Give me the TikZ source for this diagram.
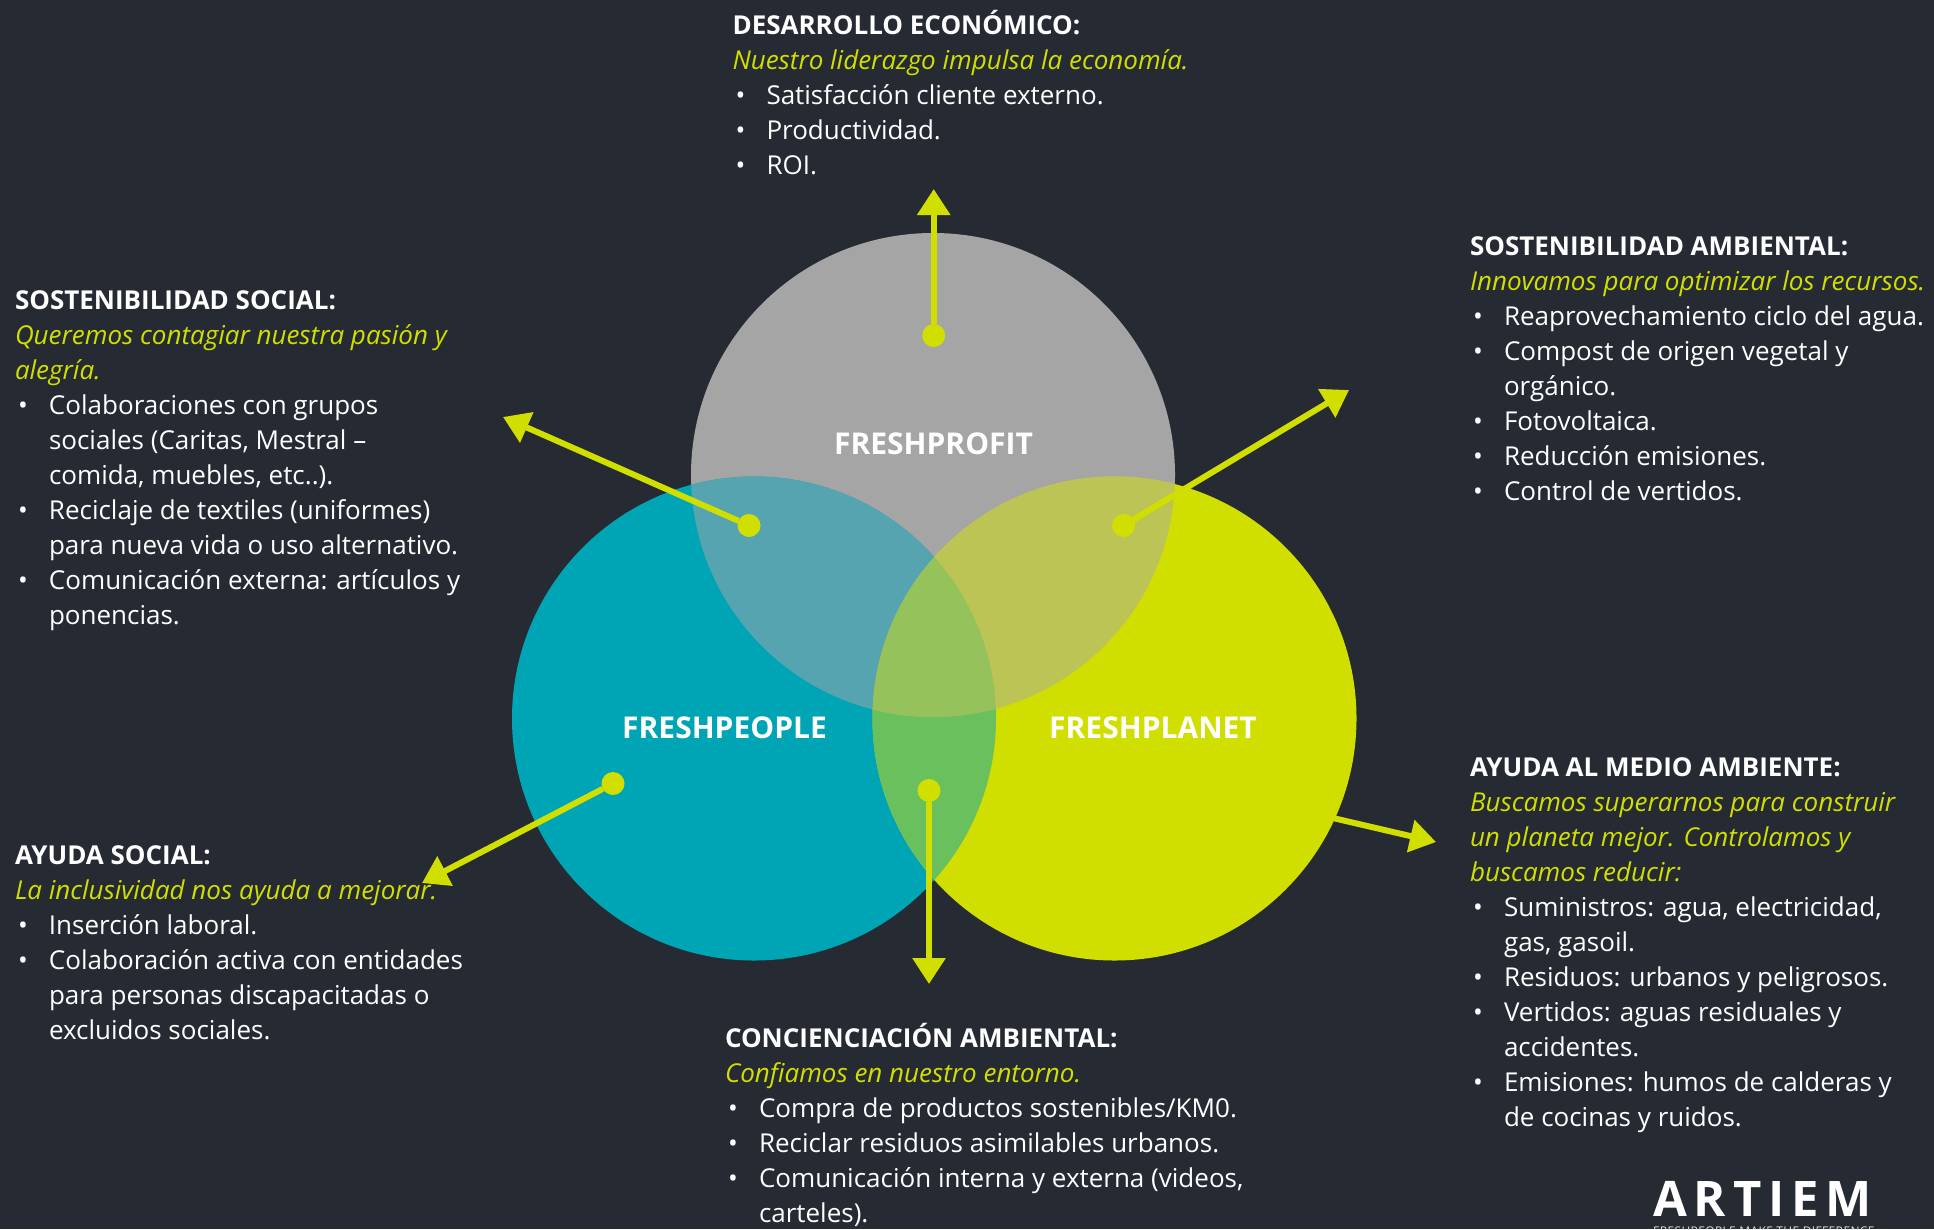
\documentclass[tikz,border=0pt]{standalone}
\usepackage{fontspec}
\setmainfont{Open Sans}
\usetikzlibrary{arrows.meta}
\definecolor{bgc}{HTML}{262B33}
\definecolor{tealc}{HTML}{00A5B5}
\definecolor{lime}{HTML}{D1DF00}
\definecolor{greyc}{HTML}{A5A5A5}
\definecolor{tg}{HTML}{56A4AF}
\definecolor{lg}{HTML}{BCC456}
\definecolor{tl}{HTML}{6BC05E}
\definecolor{tlg}{HTML}{95C25A}
\newcommand{\hdx}[1]{\rule{0pt}{27pt}\textbf{#1}}
\newcommand{\slx}[1]{\textcolor{lime}{\textit{#1}}}
\newcommand{\blx}[1]{\makebox[34pt][l]{\hspace{3pt}\textbullet}#1}
\newcommand{\nbx}[1]{\hspace{34pt}#1}
\tikzset{
  txt/.style={anchor=north west,inner sep=0pt,outer sep=0pt,align=left,text=white,font=\fontsize{26}{35}\selectfont},
  lbl/.style={inner sep=0pt,text=white,font=\fontsize{30}{36}\selectfont\bfseries},
  dotn/.style={circle,fill=lime,minimum size=23pt,inner sep=0pt,outer sep=0pt},
  arr/.style={draw=lime,line width=6pt,-{Triangle[length=26pt,width=32pt]}},
}
\begin{document}
\begin{tikzpicture}[x=1pt,y=-1pt]
\useasboundingbox (0,0) rectangle (1934,1229);
\clip (0,0) rectangle (1934,1229);
\fill[bgc] (0,0) rectangle (1934,1229);
\coordinate (cp) at (933,475);
\coordinate (cl) at (754,718.5);
\coordinate (cr) at (1114.5,718.5);
\def\rr{242pt}
\fill[greyc] (cp) circle (\rr);
\fill[tealc] (cl) circle (\rr);
\fill[lime] (cr) circle (\rr);
\begin{scope}\clip (cl) circle (\rr); \fill[tl] (cr) circle (\rr);\end{scope}
\begin{scope}\clip (cp) circle (\rr); \fill[tg] (cl) circle (\rr);\end{scope}
\begin{scope}\clip (cp) circle (\rr); \fill[lg] (cr) circle (\rr);\end{scope}
\begin{scope}\clip (cp) circle (\rr); \clip (cl) circle (\rr); \fill[tlg] (cr) circle (\rr);\end{scope}

\node[lbl] (profit) at (933.5,444) {FRESHPROFIT};
\node[lbl] (people) at (724.5,728) {FRESHPEOPLE};
\node[lbl] (planet) at (1153,728) {FRESHPLANET};

\node[dotn] (d1) at (933.7,335.5) {};
\node[dotn] (d2) at (749,525.5) {};
\node[dotn] (d3) at (1123.6,525.5) {};
\node[dotn] (d4) at (613,783.5) {};
\node[dotn] (d5) at (929,790.5) {};
\coordinate (s6) at (1320,815);
\coordinate (t1) at (933.7,189);
\coordinate (t2) at (503,417);
\coordinate (t3) at (1349,390);
\coordinate (t4) at (422,883);
\coordinate (t5) at (929,984);
\coordinate (t6) at (1436,842);
\draw[arr] (d1) -- (t1);
\draw[arr] (d2) -- (t2);
\draw[arr] (d3) -- (t3);
\draw[arr] (d4) -- (t4);
\draw[arr] (d5) -- (t5);
\draw[arr] (s6) -- (t6);

\node[txt] (top) at (732.5,7.5) {\hdx{DESARROLLO ECONÓMICO:}\\
\slx{Nuestro liderazgo impulsa la economía.}\\
\blx{Satisfacción cliente externo.}\\
\blx{Productividad.}\\
\blx{ROI.}};
\node[txt] (ss) at (15,282.5) {\hdx{SOSTENIBILIDAD SOCIAL:}\\
\slx{Queremos contagiar nuestra pasión y}\\
\slx{alegría.}\\
\blx{Colaboraciones con grupos}\\
\nbx{sociales (Caritas, Mestral –}\\
\nbx{comida, muebles, etc..).}\\
\blx{Reciclaje de textiles (uniformes)}\\
\nbx{para nueva vida o uso alternativo.}\\
\blx{Comunicación externa: artículos y}\\
\nbx{ponencias.}};
\node[txt] (as) at (15,837.5) {\hdx{AYUDA SOCIAL:}\\
\slx{La inclusividad nos ayuda a mejorar.}\\
\blx{Inserción laboral.}\\
\blx{Colaboración activa con entidades}\\
\nbx{para personas discapacitadas o}\\
\nbx{excluidos sociales.}};
\node[txt] (sa) at (1470,228) {\hdx{SOSTENIBILIDAD AMBIENTAL:}\\
\slx{Innovamos para optimizar los recursos.}\\
\blx{Reaprovechamiento ciclo del agua.}\\
\blx{Compost de origen vegetal y}\\
\nbx{orgánico.}\\
\blx{Fotovoltaica.}\\
\blx{Reducción emisiones.}\\
\blx{Control de vertidos.}};
\node[txt] (am) at (1470,749) {\hdx{AYUDA AL MEDIO AMBIENTE:}\\
\slx{Buscamos superarnos para construir}\\
\slx{un planeta mejor. Controlamos y}\\
\slx{buscamos reducir:}\\
\blx{Suministros: agua, electricidad,}\\
\nbx{gas, gasoil.}\\
\blx{Residuos: urbanos y peligrosos.}\\
\blx{Vertidos: aguas residuales y}\\
\nbx{accidentes.}\\
\blx{Emisiones: humos de calderas y}\\
\nbx{de cocinas y ruidos.}};
\node[txt] (ca) at (725,1020) {\hdx{CONCIENCIACIÓN AMBIENTAL:}\\
\slx{Confiamos en nuestro entorno.}\\
\blx{Compra de productos sostenibles/KM0.}\\
\blx{Reciclar residuos asimilables urbanos.}\\
\blx{Comunicación interna y externa (videos,}\\
\nbx{carteles).}};
\node[anchor=base west,inner sep=0pt,text=white,font=\fontsize{49}{49}\selectfont\bfseries\addfontfeature{LetterSpace=14}] (logo) at (1653,1216) {ARTIEM};
\node[anchor=base west,inner sep=0pt,text=white!85!bgc,font=\fontsize{12}{12}\selectfont\addfontfeature{LetterSpace=3}] (tag) at (1653,1235) {FRESHPEOPLE MAKE THE DIFFERENCE};
\end{tikzpicture}
\end{document}
